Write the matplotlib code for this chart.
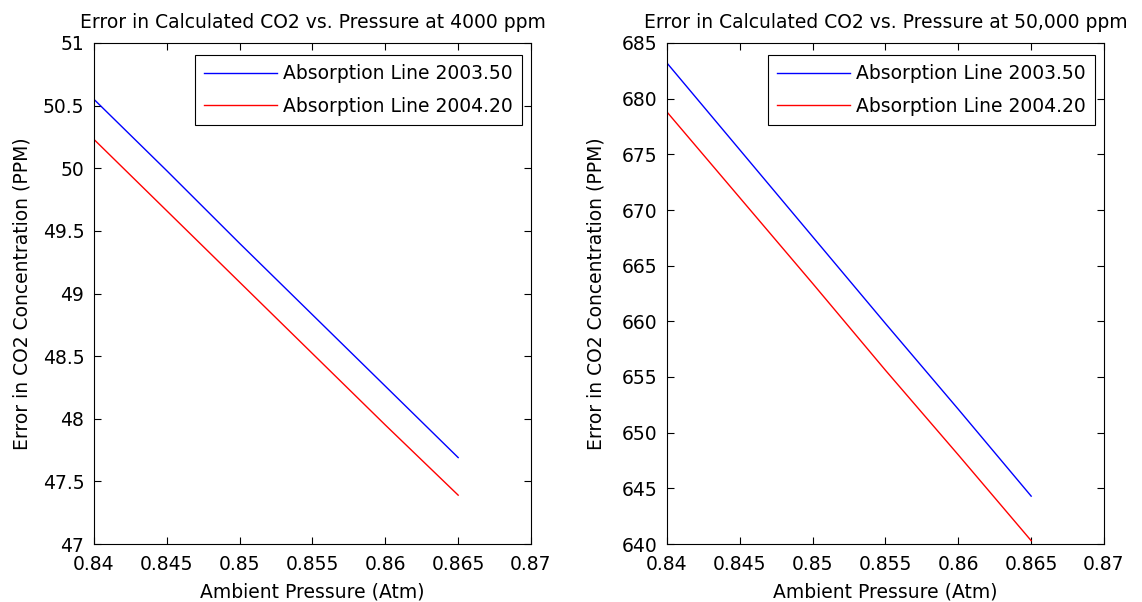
import matplotlib
matplotlib.use("Agg")
from matplotlib import pyplot as plt

plt.rcParams['font.family'] = ['DejaVu Sans']
plt.rcParams['font.size'] = 13.5

# pressure values (Atm)
pressure = [0.84, 0.845, 0.85, 0.855, 0.86, 0.865]

# 4000 ppm case
err_4000_2003 = [50.55, 49.98, 49.40, 48.83, 48.26, 47.69]
err_4000_2004 = [50.23, 49.66, 49.09, 48.52, 47.95, 47.39]

# 50,000 ppm case
err_50k_2003 = [683.2, 675.4, 667.6, 659.8, 652.1, 644.3]
err_50k_2004 = [678.8, 671.1, 663.4, 655.6, 648.0, 640.3]

labels = ["Absorption Line 2003.50", "Absorption Line 2004.20"]
xticks = [0.84, 0.845, 0.85, 0.855, 0.86, 0.865, 0.87]
xticklabels = ["0.84", "0.845", "0.85", "0.855", "0.86", "0.865", "0.87"]

panels = [
    ("Error in Calculated CO2 vs. Pressure at 4000 ppm", err_4000_2003, err_4000_2004,
     (47, 51), [47, 47.5, 48, 48.5, 49, 49.5, 50, 50.5, 51],
     ["47", "47.5", "48", "48.5", "49", "49.5", "50", "50.5", "51"]),
    ("Error in Calculated CO2 vs. Pressure at 50,000 ppm", err_50k_2003, err_50k_2004,
     (640, 685), list(range(640, 686, 5)), [str(v) for v in range(640, 686, 5)]),
]

W, H = 1142, 602
fig = plt.figure(figsize=(W / 100, H / 100), dpi=100)
boxes = [(94, 43, 437, 501), (667, 43, 437, 501)]  # x, top, w, h in pixels

for (title, blue, red, ylim, yticks, yticklabels), (px, pt, pw, ph) in zip(panels, boxes):
    ax = fig.add_axes([px / W, (H - pt - ph) / H, pw / W, ph / H])
    ax.plot(pressure, blue, color='#0000ff', lw=1.0, label=labels[0])
    ax.plot(pressure, red, color='#ff0000', lw=1.0, label=labels[1])
    ax.set_xlim(0.84, 0.87)
    ax.set_ylim(*ylim)
    ax.set_xticks(xticks)
    ax.set_xticklabels(xticklabels)
    ax.set_yticks(yticks)
    ax.set_yticklabels(yticklabels)
    ax.tick_params(direction='in', top=True, right=True, length=5, width=0.8)
    ax.tick_params(axis='x', pad=8)
    ax.tick_params(axis='y', pad=7)
    for s in ax.spines.values():
        s.set_linewidth(0.8)
    ax.set_title(title, fontsize=13.5, pad=11)
    ax.set_xlabel("Ambient Pressure (Atm)")
    ax.xaxis.set_label_coords(0.5, -38 / ph)
    ax.set_ylabel("Error in CO2 Concentration (PPM)")
    ax.yaxis.set_label_coords(-62 / pw, 0.5)
    leg = ax.legend(loc='upper right', bbox_to_anchor=(1 - 9 / pw, 1 - 12 / ph),
                    borderaxespad=0, fancybox=False, edgecolor='black', framealpha=1,
                    handlelength=3.9, handletextpad=0.3, labelspacing=0.7,
                    borderpad=0.5)
    leg.get_frame().set_linewidth(0.8)

fig.savefig("out.png", dpi=100)
